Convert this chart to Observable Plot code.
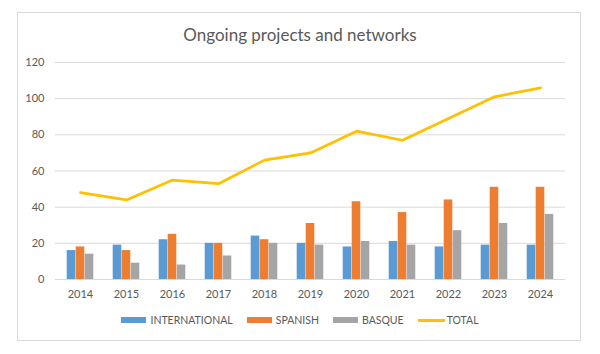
<!DOCTYPE html>
<html>
<head>
<meta charset="utf-8">
<script src="https://cdn.jsdelivr.net/npm/d3@7"></script>
<script src="https://cdn.jsdelivr.net/npm/@observablehq/plot@0.6"></script>
<style>
  html, body { margin: 0; padding: 0; background: #fff; }
  body { width: 600px; height: 354px; position: relative; overflow: hidden; font-family: Lato, "Open Sans", sans-serif; color: #595959; }
  #frame { position: absolute; left: 17px; top: 12px; width: 562px; height: 327px; border: 1px solid #D9D9D9; box-sizing: content-box; }
  #title { position: absolute; left: 0; width: 600px; top: 24px; text-align: center; font-size: 17px; color: #595959; line-height: 22px; }
  #chart { position: absolute; left: 0; top: 50px; }
  #legend { position: absolute; top: 314px; left: 0; width: 600px; display: flex; justify-content: center; align-items: center; font-size: 10.5px; color: #595959; }
  .item { display: flex; align-items: center; margin: 0 7px; }
  .sw { width: 25px; height: 6px; margin-right: 4px; }
  .ln { width: 27px; height: 3px; margin-right: 2px; }
</style>
</head>
<body>
<div id="frame"></div>
<div id="title">Ongoing projects and networks</div>
<div id="chart"></div>
<div id="legend"></div>
<script>
const years = ["2014","2015","2016","2017","2018","2019","2020","2021","2022","2023","2024"];
const international = [16, 19, 22, 20, 24, 20, 18, 21, 18, 19, 19];
const spanish       = [18, 16, 25, 20, 22, 31, 43, 37, 44, 51, 51];
const basque        = [14,  9,  8, 13, 20, 19, 21, 19, 27, 31, 36];
const total         = [48, 44, 55, 53, 66, 70, 82, 77, 89, 101, 106];
const yTicks = [0, 20, 40, 60, 80, 100, 120];
const seriesNames = ["INTERNATIONAL", "SPANISH", "BASQUE", "TOTAL"];
const colors = ["#5B9BD5", "#ED7D31", "#A5A5A5", "#FFC000"];

const rows = (vals) => years.map((y, i) => ({year: y, value: vals[i]}));
const barOpts = (dx, fill) => ({x: "year", y: "value", fill, dx, insetLeft: 18.7, insetRight: 18.7});

const chart = Plot.plot({
  width: 600,
  height: 260,
  marginTop: 12,
  marginBottom: 31,
  marginLeft: 55,
  marginRight: 35,
  style: {fontFamily: "Lato, 'Open Sans', sans-serif", fontSize: "11px", color: "#595959", background: "transparent"},
  x: {type: "band", domain: years, padding: 0, label: null, tickSize: 0, tickPadding: 11},
  y: {domain: [0, 120], ticks: yTicks, label: null, tickSize: 0, tickPadding: 11},
  marks: [
    Plot.gridY(yTicks, {stroke: "#D9D9D9", strokeOpacity: 1, strokeWidth: 1}),
    Plot.barY(rows(international), barOpts(-9, colors[0])),
    Plot.barY(rows(spanish), barOpts(0, colors[1])),
    Plot.barY(rows(basque), barOpts(9, colors[2])),
    Plot.line(rows(total), {x: "year", y: "value", stroke: colors[3], strokeWidth: 2.75, strokeLinejoin: "round", strokeLinecap: "round"})
  ]
});
document.getElementById("chart").appendChild(chart);

const legend = document.getElementById("legend");
seriesNames.forEach((name, i) => {
  const item = document.createElement("div");
  item.className = "item";
  const sw = document.createElement("div");
  sw.className = i === 3 ? "ln" : "sw";
  sw.style.background = colors[i];
  const t = document.createElement("span");
  t.textContent = name;
  item.appendChild(sw);
  item.appendChild(t);
  legend.appendChild(item);
});
</script>
</body>
</html>
